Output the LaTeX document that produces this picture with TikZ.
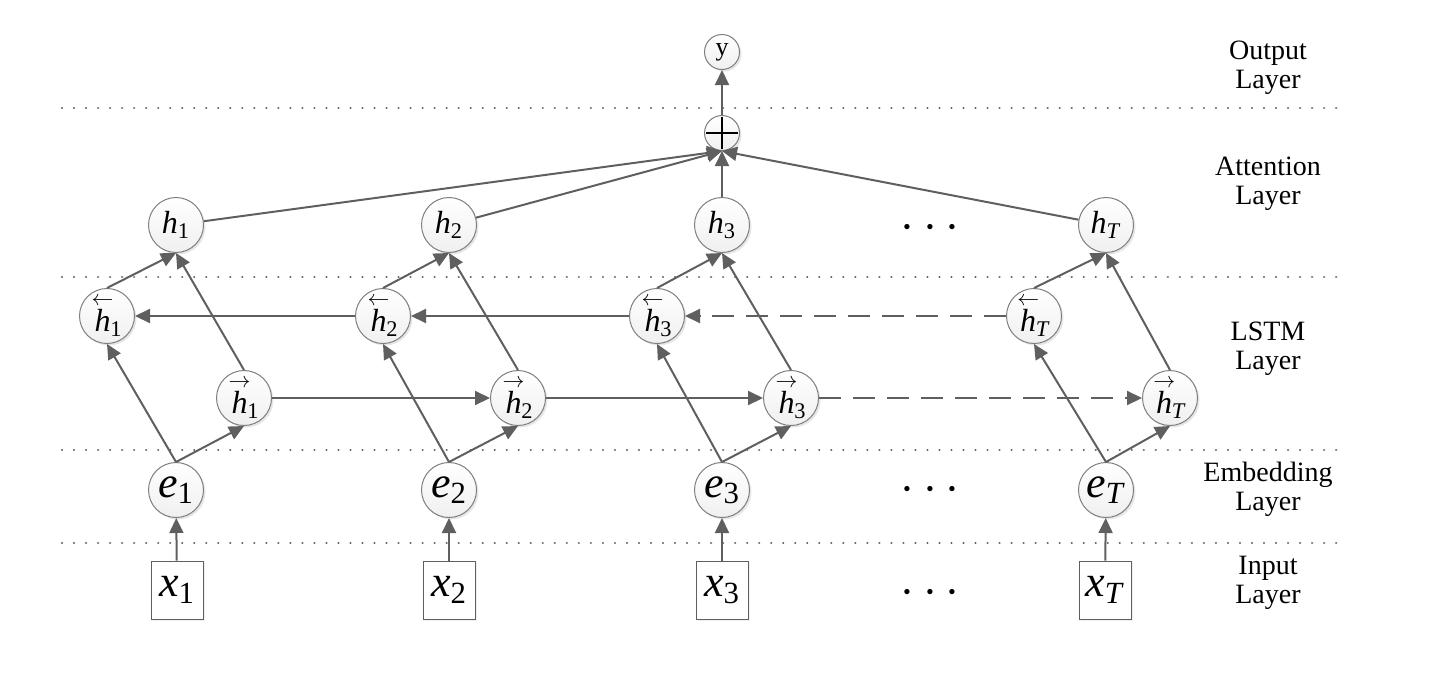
\documentclass[tikz,border=0pt]{standalone}
\usepackage{fontspec}
\setmainfont{Liberation Serif}
\usetikzlibrary{arrows.meta,shadows}
\definecolor{ln}{HTML}{5F5F5F}
\newcommand{\hb}[1]{$\stackrel{\leftarrow}{\mbox{\textit{h}}}$\kern-0.1em\textsubscript{#1}}
\newcommand{\hf}[1]{$\stackrel{\rightarrow}{\mbox{\textit{h}}}$\kern-0.1em\textsubscript{#1}}
\tikzset{
  neuron/.style={circle,draw=ln!80,line width=0.5pt,minimum size=27.5pt,inner sep=0pt,
    top color=white,bottom color=gray!12,
    drop shadow={opacity=0.2,shadow xshift=1pt,shadow yshift=-1pt}},
  hnode/.style={neuron,font=\fontsize{16}{18}\selectfont},
  enode/.style={neuron,font=\fontsize{22}{24}\selectfont},
  small/.style={neuron,minimum size=17.5pt,font=\fontsize{13}{14}\selectfont},
  inbox/.style={draw=ln,line width=0.5pt,fill=white,minimum width=26pt,minimum height=29pt,inner sep=0pt,
    font=\fontsize{22}{24}\selectfont,
    drop shadow={opacity=0.12,shadow xshift=1pt,shadow yshift=-1pt}},
  conn/.style={draw=ln,line width=1pt,-{Triangle[length=7.5pt,width=7pt]}},
  dconn/.style={conn,dash pattern=on 11pt off 6pt},
  sep/.style={draw=ln,line width=1.2pt,dash pattern=on 0.01pt off 6pt,line cap=round},
  layer/.style={align=center,font=\fontsize{14}{14.5}\selectfont},
  dots/.style={font=\fontsize{24}{26}\selectfont}
}
\begin{document}
\begin{tikzpicture}[x=0.5pt,y=-0.5pt]
\useasboundingbox (0,0) rectangle (1450,675);
% separators
\foreach \yy in {108,277,450,543} \draw[sep] (62,\yy) -- (1345,\yy);
% layer labels
\node[layer] (lo) at (1268,68) {Output\\Layer};
\node[layer] (la) at (1268,184) {Attention\\Layer};
\node[layer] (ll) at (1268,349) {LSTM\\Layer};
\node[layer] (le) at (1268,489) {Embedding\\Layer};
\node[layer] (li) at (1268,583) {Input\\Layer};
% top
\node[small] (y) at (722,52) {y};
\node[small,path picture={\draw[black,line width=1.3pt] ([xshift=-8pt]path picture bounding box.center) -- ([xshift=8pt]path picture bounding box.center);
  \draw[black,line width=1.3pt] ([yshift=-8pt]path picture bounding box.center) -- ([yshift=8pt]path picture bounding box.center);}] (plus) at (722,133) {};
% columns
\node[hnode] (h1) at (176,225) {\textit{h}\textsubscript{1}};
\node[hnode] (h2) at (449,225) {\textit{h}\textsubscript{2}};
\node[hnode] (h3) at (722,225) {\textit{h}\textsubscript{3}};
\node[hnode] (hT) at (1106,225) {\textit{h}\textsubscript{\textit{T}}};
\node[hnode] (b1) at (107,316) {\hb{1}};
\node[hnode] (b2) at (383,316) {\hb{2}};
\node[hnode] (b3) at (657,316) {\hb{3}};
\node[hnode] (bT) at (1034,316) {\hb{\textit{T}}};
\node[hnode] (f1) at (244,398) {\hf{1}};
\node[hnode] (f2) at (518,398) {\hf{2}};
\node[hnode] (f3) at (791,398) {\hf{3}};
\node[hnode] (fT) at (1170,398) {\hf{\textit{T}}};
\node[enode] (e1) at (176,490) {\textit{e}\textsubscript{1}};
\node[enode] (e2) at (449,490) {\textit{e}\textsubscript{2}};
\node[enode] (e3) at (722,490) {\textit{e}\textsubscript{3}};
\node[enode] (eT) at (1106,490) {\textit{e}\textsubscript{\textit{T}}};
\node[inbox] (x1) at (177,590) {\textit{x}\textsubscript{1}};
\node[inbox] (x2) at (449,590) {\textit{x}\textsubscript{2}};
\node[inbox] (x3) at (722,590) {\textit{x}\textsubscript{3}};
\node[inbox] (xT) at (1105,590) {\textit{x}\textsubscript{\textit{T}}};
\node[dots] (d1) at (930,228) {$\cdots$};
\node[dots] (d2) at (930,490) {$\cdots$};
\node[dots] (d3) at (930,593) {$\cdots$};
% connectors
\draw[conn] (plus) -- (y);
\foreach \c in {1,2,3,T}{
  \draw[conn] (x\c) -- (e\c);
  \draw[conn] (e\c.north) -- (b\c.south);
  \draw[conn] (e\c.north) -- (f\c.south);
  \draw[conn] (b\c.north) -- (h\c.south);
  \draw[conn] (f\c.north) -- (h\c.south);
  \draw[conn] (h\c) -- (plus.south);
}
\draw[conn] (f1) -- (f2);
\draw[conn] (f2) -- (f3);
\draw[dconn] (f3) -- (fT);
\draw[conn] (b2) -- (b1);
\draw[conn] (b3) -- (b2);
\draw[dconn] (bT) -- (b3);
\end{tikzpicture}
\end{document}
